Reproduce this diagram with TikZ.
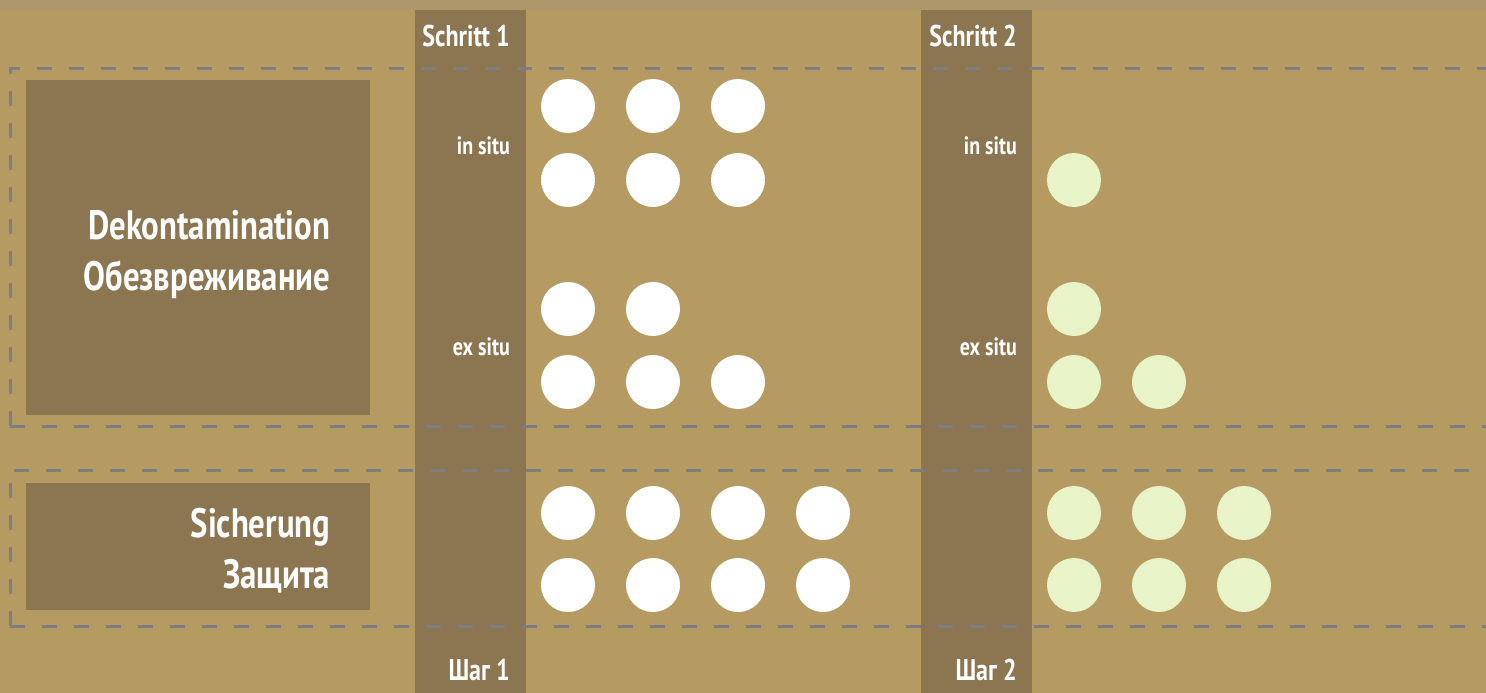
\documentclass[tikz,border=0pt]{standalone}
\usepackage{fontspec}
\setmainfont{PT Sans}[FakeStretch=0.8]
\usetikzlibrary{positioning}

\definecolor{sandbg}{HTML}{B59B62}
\definecolor{topband}{HTML}{AE976B}
\definecolor{stepbrown}{HTML}{8B7651}
\definecolor{dashgray}{HTML}{7D7E80}
\definecolor{palegreen}{HTML}{E8F3C8}

\begin{document}
\begin{tikzpicture}[
  x=1pt, y=-1pt,
  font=\bfseries,
  areabox/.style={fill=stepbrown, anchor=north west, minimum width=344pt, inner xsep=40pt, inner ysep=0pt, text width=264pt, align=right, text=white, font=\bfseries\fontsize{41}{51}\selectfont},
  steptag/.style={anchor=east, text=white, inner sep=0pt, font=\bfseries\fontsize{30}{34}\selectfont},
  sitetag/.style={anchor=east, text=white, inner sep=0pt, font=\bfseries\fontsize{25}{28}\selectfont},
  dot/.style={circle, fill=white, minimum size=54pt, inner sep=0pt},
  gdot/.style={dot, fill=palegreen},
  dashline/.style={draw=dashgray, line width=3pt, dash pattern=on 15pt off 17pt},
]
\useasboundingbox (0,0) rectangle (1486,693);
\fill[sandbg] (0,0) rectangle (1486,693);
\fill[topband] (0,0) rectangle (1486,10);

% step columns
\fill[stepbrown] (415,10) rectangle (526,693);
\fill[stepbrown] (921,10) rectangle (1032,693);

% dashed groups
\draw[dashline] (10,426) -- (10,69) -- (1486,69);
\draw[dashline] (10,426) -- (1486,426);
\draw[dashline] (10,626) -- (10,470) -- (1486,470);
\draw[dashline] (10,626) -- (1486,626);

% row headers
\node[areabox, minimum height=335pt, text height=42pt] (dekon) at (26,80) {Dekontamination\\Обезвреживание};
\node[areabox, minimum height=127pt, text height=38pt] (sicher) at (26,483) {Sicherung\\Защита};

% step labels
\node[steptag] (s1top) at (510,36) {Schritt 1};
\node[steptag] (s2top) at (1017,36) {Schritt 2};
\node[steptag] (s1bot) at (510,670) {Шаг 1};
\node[steptag] (s2bot) at (1017,670) {Шаг 2};

\node[sitetag] (s1in) at (510,146) {in situ};
\node[sitetag] (s1ex) at (510,347) {ex situ};
\node[sitetag] (s2in) at (1017,146) {in situ};
\node[sitetag] (s2ex) at (1017,347) {ex situ};

% step 1 dots
\foreach \r/\y/\n in {a/106/3, b/180/3, c/309/2, d/382/3, e/513/4, f/585/4}
  \foreach \c in {1,...,\n}
    \node[dot] (w-\r-\c) at ({568+85*(\c-1)},\y) {};

% step 2 dots
\foreach \r/\y/\n in {b/180/1, c/309/1, d/382/2, e/513/3, f/585/3}
  \foreach \c in {1,...,\n}
    \node[gdot] (g-\r-\c) at ({1074+85*(\c-1)},\y) {};
\end{tikzpicture}
\end{document}
